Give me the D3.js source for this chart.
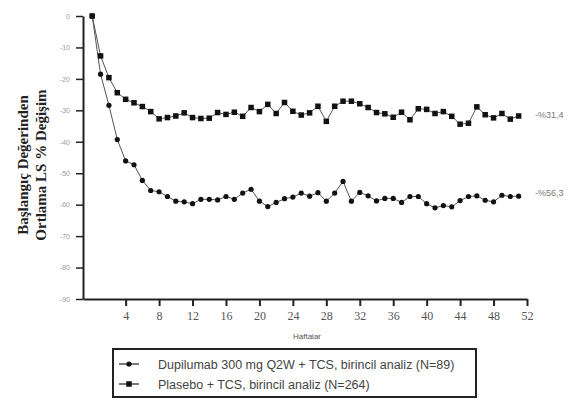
<!DOCTYPE html>
<html>
<head>
<meta charset="utf-8">
<script src="https://cdn.jsdelivr.net/npm/d3@7"></script>
<style>
  body { margin: 0; background: #fff; }
  svg { display: block; }
</style>
</head>
<body>
<script>
const width = 570;
const height = 407;

// weeks 0..51
const weeks = d3.range(0, 52);
const xTicks = [4, 8, 12, 16, 20, 24, 28, 32, 36, 40, 44, 48, 52];
const yTicks = [0, -10, -20, -30, -40, -50, -60, -70, -80, -90];

const dupilumab = [0, -18.5, -28.4, -39.3, -46.1, -47.3, -52.3, -55.5, -55.9, -57.4,
  -58.9, -59.1, -59.7, -58.3, -58.3, -58.5, -57.4, -58.3, -56.3, -55.1,
  -58.9, -60.6, -59.3, -58.1, -57.6, -56.3, -57.3, -56.2, -58.9, -56.3,
  -52.6, -58.9, -56.1, -57.2, -58.8, -58.0, -58.0, -59.3, -57.4, -57.4,
  -59.7, -61.0, -60.3, -60.7, -58.7, -57.4, -57.2, -58.6, -59.1, -57.0,
  -57.4, -57.3];
const placebo = [0, -12.7, -19.6, -24.4, -26.5, -27.6, -28.8, -30.4, -32.7, -32.3,
  -31.8, -30.8, -32.3, -32.6, -32.5, -30.7, -31.3, -30.6, -31.9, -29.1,
  -30.4, -28.1, -31.0, -27.5, -30.3, -31.5, -30.8, -28.7, -33.5, -28.7,
  -27.1, -27.1, -27.9, -29.1, -30.7, -31.1, -32.2, -30.6, -33.0, -29.5,
  -29.7, -31.0, -30.4, -31.9, -34.4, -34.1, -28.9, -31.4, -32.4, -31.0,
  -32.8, -31.8];

const endLabels = ["-%31,4", "-%56,3"];
const endValues = [-31.4, -56.3];
const legendLabels = [
  "Dupilumab 300 mg Q2W + TCS, birincil analiz (N=89)",
  "Plasebo + TCS, birincil analiz (N=264)"
];

const svg = d3.select("body")
  .append("svg")
  .attr("width", width)
  .attr("height", height);

const x = d3.scaleLinear().domain([-1.1, 52]).range([83, 527]);
const y = d3.scaleLinear().domain([0, -90]).range([16, 299]);

// Axes
const xAxis = svg.append("g")
  .attr("transform", `translate(0,${y(-90)})`)
  .call(d3.axisBottom(x).tickValues(xTicks).tickSize(7).tickSizeOuter(0).tickPadding(5)
    .tickFormat(d => String(d)));
xAxis.select(".domain").attr("stroke", "#222").attr("stroke-width", 2);
xAxis.selectAll(".tick line").attr("stroke", "#222").attr("stroke-width", 2);
xAxis.selectAll("text")
  .attr("font-family", "'Liberation Serif', 'Times New Roman', serif")
  .attr("font-size", 12)
  .attr("fill", "#555");

const yAxis = svg.append("g")
  .attr("transform", `translate(${x(-1.1)},0)`)
  .call(d3.axisLeft(y).tickValues(yTicks).tickSize(7).tickSizeOuter(0).tickPadding(6)
    .tickFormat(d => String(d)));
yAxis.select(".domain").attr("stroke", "#222").attr("stroke-width", 2);
yAxis.selectAll(".tick line").attr("stroke", "#222").attr("stroke-width", 1.5);
yAxis.selectAll("text")
  .attr("font-family", "'Liberation Sans', Arial, sans-serif")
  .attr("font-size", 7)
  .attr("fill", "#999");

// X axis title
svg.append("text")
  .attr("x", 307)
  .attr("y", 339)
  .attr("text-anchor", "middle")
  .attr("font-family", "'Liberation Sans', Arial, sans-serif")
  .attr("font-size", 8)
  .attr("fill", "#555")
  .text("Haftalar");

// Y axis title (two lines, rotated)
const yTitle = svg.append("text")
  .attr("transform", "translate(0,165) rotate(-90)")
  .attr("text-anchor", "middle")
  .attr("font-family", "'Liberation Serif', 'Times New Roman', serif")
  .attr("font-weight", "bold")
  .attr("font-size", 15)
  .attr("fill", "#222");
yTitle.append("tspan").attr("x", 0).attr("y", 28).text("Başlangıç Değerinden");
yTitle.append("tspan").attr("x", 0).attr("y", 46).text("Ortlama LS % Değişim");

const line = d3.line()
  .x((d, i) => x(weeks[i]))
  .y(d => y(d));

// Lines
svg.append("path")
  .datum(placebo)
  .attr("fill", "none")
  .attr("stroke", "#555")
  .attr("stroke-width", 1)
  .attr("d", line);

svg.append("path")
  .datum(dupilumab)
  .attr("fill", "none")
  .attr("stroke", "#555")
  .attr("stroke-width", 1)
  .attr("d", line);

// Markers
const sq = 5.5;
svg.selectAll(".sq")
  .data(placebo)
  .enter()
  .append("rect")
  .attr("class", "sq")
  .attr("x", (d, i) => x(weeks[i]) - sq / 2)
  .attr("y", d => y(d) - sq / 2)
  .attr("width", sq)
  .attr("height", sq)
  .attr("fill", "#111");

svg.selectAll(".dot")
  .data(dupilumab)
  .enter()
  .append("circle")
  .attr("class", "dot")
  .attr("cx", (d, i) => x(weeks[i]))
  .attr("cy", d => y(d))
  .attr("r", 2.6)
  .attr("fill", "#111");

// End labels
svg.selectAll(".endlab")
  .data(endLabels)
  .enter()
  .append("text")
  .attr("class", "endlab")
  .attr("x", 535)
  .attr("y", (d, i) => y(endValues[i]) + 3)
  .attr("font-family", "'Liberation Sans', Arial, sans-serif")
  .attr("font-size", 9)
  .attr("fill", "#777")
  .text(d => d);

// Legend
const legend = svg.append("g");
legend.append("rect")
  .attr("x", 113)
  .attr("y", 349)
  .attr("width", 363)
  .attr("height", 48)
  .attr("fill", "#fff")
  .attr("stroke", "#222")
  .attr("stroke-width", 2);

const legY = [364, 384];
legend.selectAll(".legline")
  .data(legY)
  .enter()
  .append("line")
  .attr("x1", 119)
  .attr("x2", 139)
  .attr("y1", d => d)
  .attr("y2", d => d)
  .attr("stroke", "#222")
  .attr("stroke-width", 1.2);

legend.append("circle")
  .attr("cx", 129).attr("cy", legY[0]).attr("r", 2.6).attr("fill", "#111");
legend.append("rect")
  .attr("x", 129 - sq / 2).attr("y", legY[1] - sq / 2)
  .attr("width", sq).attr("height", sq).attr("fill", "#111");

legend.selectAll(".legtext")
  .data(legendLabels)
  .enter()
  .append("text")
  .attr("x", 158)
  .attr("y", (d, i) => legY[i] + 4.5)
  .attr("font-family", "'Liberation Sans', Arial, sans-serif")
  .attr("font-size", 12.5)
  .attr("fill", "#444")
  .text(d => d);
</script>
</body>
</html>
